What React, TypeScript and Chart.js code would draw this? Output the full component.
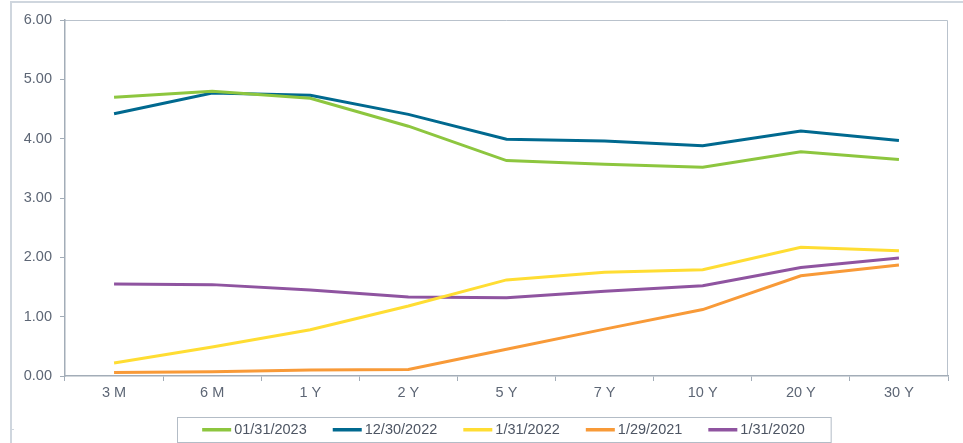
import React, { useEffect, useRef } from "react";
import { Chart, registerables } from "chart.js";

Chart.register(...registerables);

const categories = ["3 M", "6 M", "1 Y", "2 Y", "5 Y", "7 Y", "10 Y", "20 Y", "30 Y"];
const seriesLabels = ["01/31/2023", "12/30/2022", "1/31/2022", "1/29/2021", "1/31/2020"];
const values20230131 = [4.70, 4.80, 4.68, 4.21, 3.63, 3.57, 3.52, 3.78, 3.65];
const values20221230 = [4.42, 4.77, 4.73, 4.41, 3.99, 3.96, 3.88, 4.13, 3.97];
const values20220131 = [0.22, 0.49, 0.78, 1.18, 1.62, 1.75, 1.79, 2.17, 2.11];
const values20210129 = [0.06, 0.07, 0.10, 0.11, 0.45, 0.79, 1.12, 1.69, 1.87];
const values20200131 = [1.55, 1.54, 1.45, 1.33, 1.32, 1.43, 1.52, 1.83, 1.99];
const seriesColors = ["#8dc63f", "#00698f", "#ffdd33", "#f89a38", "#8f54a0"];
const yTickValues = [0, 1, 2, 3, 4, 5, 6];

const FONT = '"Liberation Sans", Arial, sans-serif';
const AXIS_COLOR = "#a3adb8";
const TEXT_COLOR = "#5d6675";

const framePlugin = {
  id: "frame",
  beforeDraw(chart: any) {
    const { ctx, chartArea, width, height } = chart;
    ctx.save();
    ctx.fillStyle = "#ffffff";
    ctx.fillRect(0, 0, width, height);
    // outer frame (top and left)
    ctx.strokeStyle = "#cfd6de";
    ctx.lineWidth = 2;
    ctx.beginPath();
    ctx.moveTo(11, height);
    ctx.lineTo(11, 2);
    ctx.lineTo(width, 2);
    ctx.stroke();
    ctx.lineWidth = 1;
    ctx.beginPath();
    ctx.moveTo(10, 429.5);
    ctx.lineTo(14, 429.5);
    ctx.stroke();
    // plot area top and right border
    ctx.strokeStyle = "#b9c2cc";
    ctx.lineWidth = 1;
    ctx.beginPath();
    ctx.moveTo(chartArea.left, chartArea.top + 0.5);
    ctx.lineTo(chartArea.right - 0.5, chartArea.top + 0.5);
    ctx.lineTo(chartArea.right - 0.5, chartArea.bottom);
    ctx.stroke();
    ctx.restore();
  },
  afterDraw(chart: any) {
    const { ctx, chartArea } = chart;
    const datasets = chart.data.datasets;
    ctx.save();
    ctx.font = `14.5px ${FONT}`;
    const swatch = 29;
    const gapText = 3;
    const gapItem = 26;
    const widths = datasets.map((d: any) => ctx.measureText(d.label).width);
    let content = 0;
    widths.forEach((w: number, i: number) => {
      content += swatch + gapText + w + (i < widths.length - 1 ? gapItem : 0);
    });
    const center = (chartArea.left + chartArea.right) / 2 - 3;
    const boxW = content + 51;
    const boxL = Math.round(center - boxW / 2) + 0.5;
    const boxT = 417.5;
    const boxH = 25;
    ctx.strokeStyle = "#b3bcc6";
    ctx.lineWidth = 1;
    ctx.strokeRect(boxL, boxT, boxW, boxH);
    let x = center - content / 2;
    const cy = 429.5;
    ctx.textBaseline = "middle";
    ctx.textAlign = "left";
    datasets.forEach((d: any, i: number) => {
      ctx.fillStyle = d.borderColor;
      ctx.fillRect(x, cy - 1.5, swatch, 3.5);
      x += swatch + gapText;
      ctx.fillStyle = "#4d5563";
      ctx.fillText(d.label, x, cy + 0.5);
      x += widths[i] + gapItem;
    });
    ctx.restore();
  },
};

export default function App() {
  const canvasRef = useRef<HTMLCanvasElement | null>(null);

  useEffect(() => {
    document.body.style.margin = "0";
    const canvas = canvasRef.current;
    if (!canvas) return;
    const seriesValues = [values20230131, values20221230, values20220131, values20210129, values20200131];
    const chart = new Chart(canvas, {
      type: "line",
      data: {
        labels: categories,
        datasets: seriesLabels.map((label, i) => ({
          label,
          data: seriesValues[i],
          borderColor: seriesColors[i],
          backgroundColor: seriesColors[i],
          borderWidth: 3,
          pointRadius: 0,
          pointHoverRadius: 0,
          tension: 0,
          fill: false,
        })),
      },
      options: {
        animation: false,
        responsive: true,
        maintainAspectRatio: false,
        layout: { padding: { left: 10, right: 15, top: 20, bottom: 37 } },
        plugins: {
          legend: { display: false },
          tooltip: { enabled: false },
        },
        scales: {
          x: {
            type: "category",
            offset: true,
            grid: {
              offset: true,
              drawOnChartArea: false,
              drawTicks: true,
              tickLength: 5,
              color: AXIS_COLOR,
            },
            border: { display: true, color: AXIS_COLOR, width: 1.5 },
            ticks: {
              color: TEXT_COLOR,
              font: { family: FONT, size: 14.5 },
              padding: 3,
              maxRotation: 0,
              autoSkip: false,
            },
            afterFit(scale: any) {
              scale.height = 30;
            },
          },
          y: {
            min: 0,
            max: 6,
            afterBuildTicks(scale: any) {
              scale.ticks = yTickValues.map((v) => ({ value: v }));
            },
            grid: {
              drawOnChartArea: false,
              drawTicks: true,
              tickLength: 5,
              color: AXIS_COLOR,
            },
            border: { display: true, color: AXIS_COLOR, width: 1.5 },
            ticks: {
              color: TEXT_COLOR,
              font: { family: FONT, size: 14.5 },
              padding: 8,
              callback: (v: any) => Number(v).toFixed(2),
            },
            afterFit(scale: any) {
              scale.width = 55;
            },
          },
        },
      },
      plugins: [framePlugin],
    });
    return () => chart.destroy();
  }, []);

  return (
    <div style={{ width: 963, height: 443, position: "relative" }}>
      <canvas ref={canvasRef} />
    </div>
  );
}
